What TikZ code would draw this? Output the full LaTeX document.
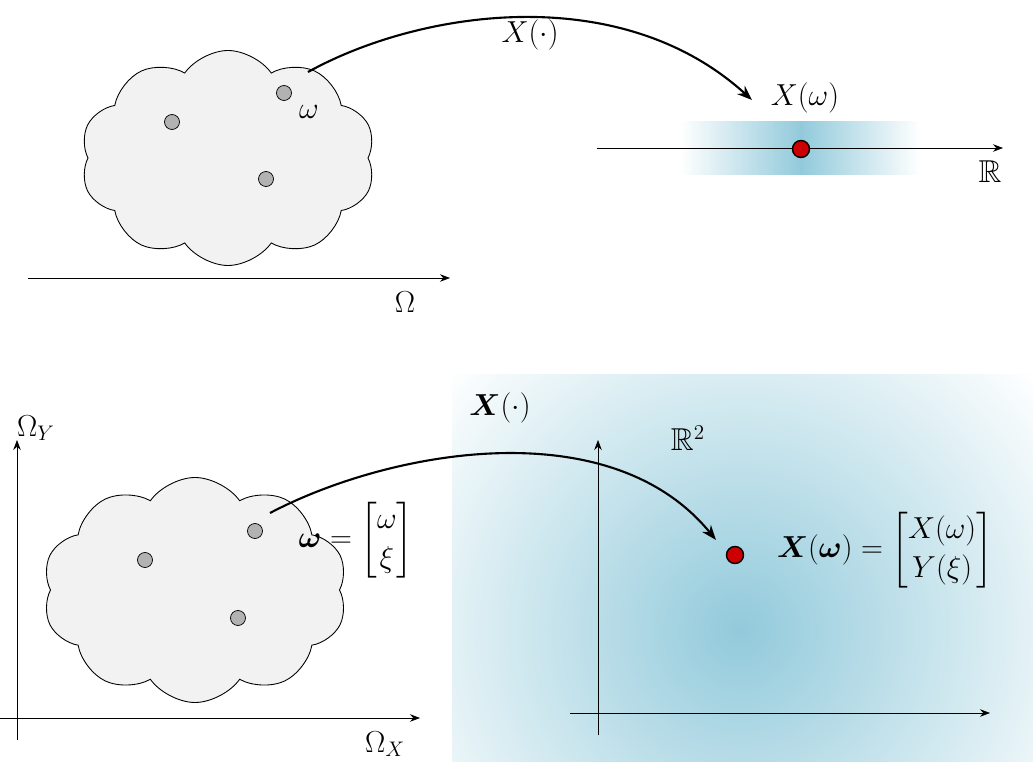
\documentclass[tikz,border=0pt]{standalone}
\usepackage{amsmath}
\usepackage{amssymb}
\usepackage{bm}
\usetikzlibrary{shapes.symbols, positioning, arrows.meta}
\definecolor{skyb}{RGB}{146,202,219}

\begin{document}
\begin{tikzpicture}[x=0.2mm, y=-0.2mm, >={Stealth[length=2mm]}, font=\fontsize{18}{22}\selectfont,
    blob/.style={cloud, cloud puffs=10, cloud puff arc=110, draw, fill=gray!10, line width=0.5pt},
    pt/.style={circle, draw, fill=gray!60, inner sep=0pt, minimum size=3mm},
    val/.style={circle, draw, thick, fill=red!80!black, inner sep=0pt, minimum size=3.4mm},
    map/.style={-{Stealth[length=3mm]}, line width=1.2pt}]
    \useasboundingbox (0,0) rectangle (1033,762);
    % top: scalar random variable
    \node[blob, minimum width=5.9cm, minimum height=4.3cm] (c1) at (228,158) {};
    \node[pt] (a1) at (172,122) {};
    \node[pt] (w1) at (284,93) {};
    \node[pt] (b1) at (266,179) {};
    \node (lw1) at (309,112) {$\omega$};
    \coordinate (o1) at (28,278);
    \coordinate (o2) at (450,278);
    \draw[->] (o1) -- (o2);
    \node (lo1) at (405,302) {$\Omega$};
    \shade[left color=white, right color=skyb] (680,122) rectangle (801,175);
    \shade[left color=skyb, right color=white] (801,122) rectangle (920,175);
    \coordinate (r1) at (597,148);
    \coordinate (r2) at (1003,148);
    \draw[->] (r1) -- (r2);
    \node (lr1) at (990,172) {$\mathbb{R}$};
    \node[val] (x1) at (801,149) {};
    \node (lx1) at (805,98) {$X(\omega)$};
    \coordinate (s1) at (308,72);
    \coordinate (e1) at (752,100);
    \draw[map] (s1) .. controls (420,10) and (620,-20) .. (e1);
    \node (lm1) at (530,35) {$X(\cdot)$};
    % bottom: random vector
    \begin{scope}
        \clip (452,375) rectangle (1033,762);
        \shade[inner color=skyb, outer color=white] (740,630) circle (390);
    \end{scope}
    \coordinate (oy1) at (17,740);
    \coordinate (oy2) at (17,440);
    \draw[->] (oy1) -- (oy2);
    \node (loy) at (36,428) {$\Omega_Y$};
    \coordinate (ox1) at (0,718);
    \coordinate (ox2) at (420,718);
    \draw[->] (ox1) -- (ox2);
    \node (lox) at (385,744) {$\Omega_X$};
    \coordinate (ry1) at (598,735);
    \coordinate (ry2) at (598,440);
    \draw[->] (ry1) -- (ry2);
    \coordinate (rx1) at (570,713);
    \coordinate (rx2) at (990,713);
    \draw[->] (rx1) -- (rx2);
    \node (lr2) at (688,438) {$\mathbb{R}^2$};
    \node[blob, minimum width=6.1cm, minimum height=4.5cm] (c2) at (195,590) {};
    \node[pt] (a2) at (145,560) {};
    \node[pt] (w2) at (255,531) {};
    \node[pt] (b2) at (238,618) {};
    \node (lw2) at (356,540) {$\bm{\omega}=\begin{bmatrix}\omega\\ \xi\end{bmatrix}$};
    \node[val] (x2) at (735,555) {};
    \node (lx2) at (885,550) {$\bm{X}(\bm{\omega})=\begin{bmatrix}X(\omega)\\ Y(\xi)\end{bmatrix}$};
    \coordinate (s2) at (270,513);
    \coordinate (e2) at (716,540);
    \draw[map] (s2) .. controls (390,450) and (610,410) .. (e2);
    \node (lm2) at (500,408) {$\bm{X}(\cdot)$};
\end{tikzpicture}
\end{document}
